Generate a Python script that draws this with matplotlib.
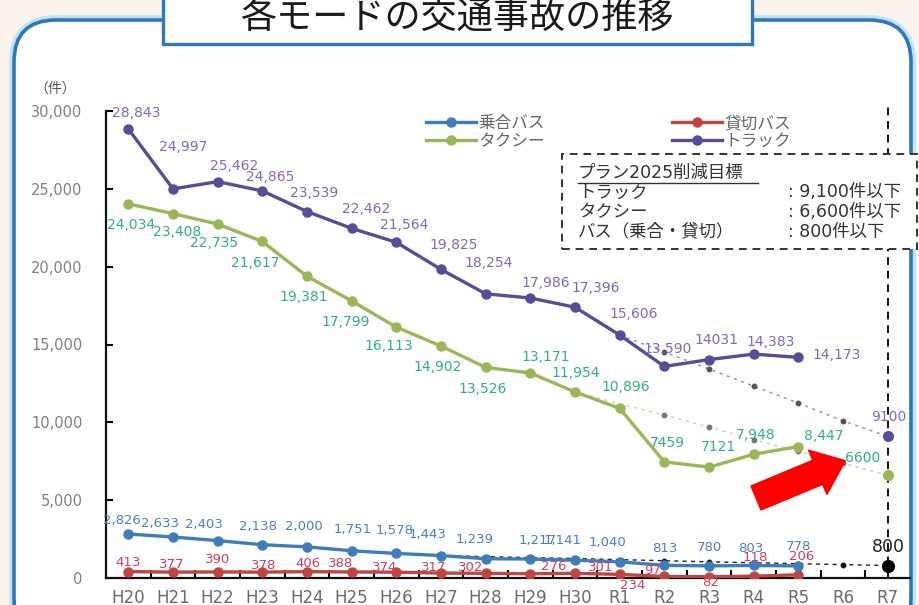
import matplotlib
matplotlib.use("Agg")
import matplotlib.pyplot as plt
from matplotlib.patches import FancyBboxPatch, Rectangle, FancyArrow
from matplotlib.lines import Line2D
from matplotlib.transforms import IdentityTransform

plt.rcParams['font.family'] = ['Noto Sans CJK JP', 'DejaVu Sans']

# ---------------- data ----------------
years = ["H20", "H21", "H22", "H23", "H24", "H25", "H26", "H27", "H28", "H29", "H30",
         "R1", "R2", "R3", "R4", "R5", "R6", "R7"]
actual_years = years[:16]

truck = [28843, 24997, 25462, 24865, 23539, 22462, 21564, 19825, 18254, 17986, 17396,
         15606, 13590, 14031, 14383, 14173]
truck_text = ["28,843", "24,997", "25,462", "24,865", "23,539", "22,462", "21,564", "19,825",
              "18,254", "17,986", "17,396", "15,606", "13,590", "14031", "14,383", "14,173"]
taxi = [24034, 23408, 22735, 21617, 19381, 17799, 16113, 14902, 13526, 13171, 11954,
        10896, 7459, 7121, 7948, 8447]
taxi_text = ["24,034", "23,408", "22,735", "21,617", "19,381", "17,799", "16,113", "14,902",
             "13,526", "13,171", "11,954", "10,896", "7459", "7121", "7,948", "8,447"]
bus_shared = [2826, 2633, 2403, 2138, 2000, 1751, 1578, 1443, 1239, 1217, 1141, 1040,
              813, 780, 803, 778]
bus_shared_text = ["2,826", "2,633", "2,403", "2,138", "2,000", "1,751", "1,578", "1,443",
                   "1,239", "1,217", "1,141", "1,040", "813", "780", "803", "778"]
bus_charter = [413, 377, 390, 378, 406, 388, 374, 317, 302, 276, 301, 234, 97, 82, 118, 206]

# plan (target) lines
truck_plan_years = ["R1", "R2", "R3", "R4", "R5", "R6", "R7"]
truck_plan = [15606, 14520, 13430, 12330, 11240, 10090, 9100]
taxi_plan_years = ["H30", "R1", "R2", "R3", "R4", "R5", "R6", "R7"]
taxi_plan = [11954, 11190, 10470, 9700, 8890, 8130, 7370, 6600]
bus_plan_years = ["H27", "H28", "H29", "H30", "R1", "R2", "R3", "R4", "R5", "R6", "R7"]
bus_plan = [1443, 1370, 1310, 1250, 1180, 1110, 1040, 980, 920, 860, 800]
plan_dot_years = ["R2", "R3", "R4", "R5", "R6"]
target_year = "R7"
truck_target, taxi_target, bus_target = 9100, 6600, 800

title = "各モードの交通事故の推移"
legend_names = ["乗合バス", "タクシー", "貸切バス", "トラック"]
box_title = "プラン2025削減目標"
box_rows = [("トラック", ": 9,100件以下"), ("タクシー", ": 6,600件以下"),
            ("バス（乗合・貸切）", ": 800件以下")]

# ---------------- label offsets (pixels) ----------------
truck_off = [(8, 16), (10, 42), (16, 16), (8, 14), (7, 19), (14, 19), (8, 17), (13, 24),
             (3, 31), (15, 15), (21, 19), (14, 21), (3, 17), (7, 20), (17, 12), (38, 2)]
taxi_off = [(3, -21), (4, -18), (-4, -19), (-7, -22), (-3, -21), (-6, -21), (-8, -19),
            (-3, -21), (-3, -22), (15, 16), (1, 19), (6, 21), (3, 19), (9, 20), (2, 19), (25, 11)]
bus_off = [(-6, 14), (-13, 14), (-14, 16), (-4, 18), (-3, 20), (1, 21), (-2, 23), (-14, 21),
           (-11, 19), (7, 19), (-12, 20), (-12, 19), (0, 17), (0, 18), (-3, 17), (0, 19)]
charter_off = [(0, 9), (-1, 8), (0, 12), (1, 7), (1, 8), (-11, 8), (-12, 5), (-7, 6),
               (-15, 6), (23, 7), (26, 6), (13, -11), (-12, 6), (2, -6), (2, 19), (3, 18)]

W, H = 919, 605
fig = plt.figure(figsize=(W / 100, H / 100), dpi=100)
fig.patch.set_facecolor('#fbf4ec')

def px(x, y):
    return x, H - y

# frame
frame_glow = FancyBboxPatch(px(14, 640), 897, 620, boxstyle="round,pad=0,rounding_size=42",
                            transform=IdentityTransform(), facecolor='white',
                            edgecolor='#bfe3f7', linewidth=7, zorder=-3)
fig.add_artist(frame_glow)
frame = FancyBboxPatch(px(14, 640), 897, 620, boxstyle="round,pad=0,rounding_size=42",
                       transform=IdentityTransform(), facecolor='white',
                       edgecolor='#2f78b8', linewidth=2.6, zorder=-2)
fig.add_artist(frame)

# title box
tb = Rectangle(px(163, 44), 589, 60, transform=IdentityTransform(), facecolor='white',
               edgecolor='#2f78b8', linewidth=2.4, zorder=5)
fig.add_artist(tb)
fig.text(458 / W, 1 - 18 / H, title, ha='center', va='center', fontsize=26,
         color='#1a1a1a', zorder=6)

ax = fig.add_axes([106 / W, 1 - 578 / H, (910 - 106) / W, (578 - 111) / H])
ax.set_zorder(1)
ax.set_facecolor('none')
ax.set_xlim(-0.5, 17.5)
ax.set_ylim(0, 30000)
for s in ['top', 'right']:
    ax.spines[s].set_visible(False)
for s in ['left', 'bottom']:
    ax.spines[s].set_linewidth(1.6)
    ax.spines[s].set_color('#111')

xi = {y: i for i, y in enumerate(years)}
xa = [xi[y] for y in actual_years]

c_truck, c_truck_t = '#5a4b98', '#8466b8'
c_taxi, c_taxi_t = '#9ab758', '#2fb084'
c_bus, c_bus_t = '#3f7cbc', '#4c7fc0'
c_ch, c_ch_t = '#c0443f', '#d63a5a'

# plan lines
ax.plot([xi[y] for y in truck_plan_years], truck_plan, linestyle=(0, (2, 3)),
        color='#a890a8', lw=1.1, zorder=2)
ax.plot([xi[y] for y in taxi_plan_years], taxi_plan, linestyle=(0, (2, 3)),
        color='#d8cfa8', lw=1.1, zorder=2)
ax.plot([xi[y] for y in bus_plan_years], bus_plan, linestyle=(0, (3, 3)),
        color='#222', lw=1.0, zorder=2)
for yrs, vals, col in [(truck_plan_years, truck_plan, '#555'),
                       (taxi_plan_years, taxi_plan, '#777'),
                       (bus_plan_years, bus_plan, '#111')]:
    pts = [(xi[y], v) for y, v in zip(yrs, vals) if y in plan_dot_years]
    ax.plot([p[0] for p in pts], [p[1] for p in pts], 'o', ms=3.2, color=col, zorder=3)

# main series
l_ch, = ax.plot(xa, bus_charter, '-o', color=c_ch, lw=2.4, ms=6.5, zorder=4)
l_bus, = ax.plot(xa, bus_shared, '-o', color=c_bus, lw=2.4, ms=6.5, zorder=4)
l_taxi, = ax.plot(xa, taxi, '-o', color=c_taxi, lw=2.4, ms=6.5, zorder=4)
l_truck, = ax.plot(xa, truck, '-o', color=c_truck, lw=2.4, ms=6.5, zorder=4)

# targets at R7
ax.plot([xi[target_year]], [truck_target], 'o', color=c_truck, ms=7, zorder=5)
ax.plot([xi[target_year]], [taxi_target], 'o', color=c_taxi, ms=7, zorder=5)
ax.plot([xi[target_year]], [bus_target], 'o', color='#000', ms=8.5, zorder=5)

# vertical dashed line at R7
ax.plot([xi[target_year]] * 2, [0, 30500], linestyle=(0, (4, 3)), color='#111', lw=1.4,
        zorder=1.5, clip_on=False)

# labels
numfont = dict(family='DejaVu Sans')
for i, (v, t) in enumerate(zip(truck, truck_text)):
    ax.annotate(t, (xa[i], v), xytext=truck_off[i], textcoords='offset pixels',
                ha='center', va='center', fontsize=10, color=c_truck_t, zorder=6, **numfont)
for i, (v, t) in enumerate(zip(taxi, taxi_text)):
    ax.annotate(t, (xa[i], v), xytext=taxi_off[i], textcoords='offset pixels',
                ha='center', va='center', fontsize=10, color=c_taxi_t, zorder=6, **numfont)
for i, (v, t) in enumerate(zip(bus_shared, bus_shared_text)):
    ax.annotate(t, (xa[i], v), xytext=bus_off[i], textcoords='offset pixels',
                ha='center', va='center', fontsize=9.5, color=c_bus_t, zorder=6, **numfont)
for i, v in enumerate(bus_charter):
    ax.annotate(f"{v:,}", (xa[i], v), xytext=charter_off[i], textcoords='offset pixels',
                ha='center', va='center', fontsize=9.5, color=c_ch_t, zorder=6, **numfont)
ax.annotate(f"{truck_target}", (xi[target_year], truck_target), xytext=(1, 19),
            textcoords='offset pixels', ha='center', va='center', fontsize=10,
            color=c_truck_t, zorder=6, **numfont)
ax.annotate(f"{taxi_target}", (xi[target_year], taxi_target), xytext=(-25, 17),
            textcoords='offset pixels', ha='center', va='center', fontsize=10,
            color=c_taxi_t, zorder=6, **numfont)
ax.annotate(f"{bus_target}", (xi[target_year], bus_target), xytext=(1, 19),
            textcoords='offset pixels', ha='center', va='center', fontsize=12.5,
            color='#222', zorder=6, **numfont)

# ticks
ax.set_yticks(range(0, 30001, 5000))
ax.set_yticklabels([f"{v:,}" for v in range(0, 30001, 5000)], fontsize=10.5,
                   color='#808080', family='DejaVu Sans')
ax.tick_params(axis='y', direction='in', length=5, width=1.5, pad=17)
ax.set_xticks(range(len(years)))
ax.set_xticklabels(years, fontsize=12, color='#6a6a6a', family='DejaVu Sans')
ax.set_xticks([i + 0.5 for i in range(len(years) - 1)], minor=True)
ax.tick_params(axis='x', which='major', length=0, pad=8)
ax.tick_params(axis='x', which='minor', direction='in', length=6, width=1.5)

fig.text(55 / W, 1 - 89 / H, "（件）", ha='center', va='center', fontsize=10, color='#555')

# legend
leg = ax.legend([l_bus, l_taxi, l_ch, l_truck], legend_names, ncol=2, frameon=False,
                loc='upper left', bbox_to_anchor=(426, H - 115),
                bbox_transform=IdentityTransform(), borderpad=0, borderaxespad=0,
                handlelength=3.0, handletextpad=0.15, columnspacing=7.6,
                labelspacing=0.05, fontsize=12)
for t in leg.get_texts():
    t.set_color('#666')

# target box
box = Rectangle(px(562, 249), 355, 95, transform=IdentityTransform(), facecolor='white',
                edgecolor='#333', linewidth=1.4, linestyle=(0, (4, 3)), zorder=7)
fig.add_artist(box)
boxfont = ['DejaVu Sans', 'Noto Sans CJK JP']
fig.text(578 / W, 1 - 173 / H, box_title, ha='left', va='center', fontsize=12.5,
         color='#333', zorder=8, family=boxfont)
fig.add_artist(Line2D([578 / W, 758 / W], [1 - 183 / H, 1 - 183 / H], color='#333',
                      lw=1.0, zorder=8))
for k, (a, b) in enumerate(box_rows):
    yy = 1 - (192.5 + 19.5 * k) / H
    fig.text(578 / W, yy, a, ha='left', va='center', fontsize=12.5, color='#333', zorder=8)
    fig.text(788 / W, yy, b, ha='left', va='center', fontsize=12.5, color='#333', zorder=8,
             family=boxfont)

# red arrow
arr = FancyArrow(756, H - 498, 89 - 30 * 0.91, 38 - 30 * 0.41, width=26, head_width=48,
                 head_length=30, length_includes_head=False, transform=IdentityTransform(),
                 color='#ff0000', zorder=9)
fig.add_artist(arr)

fig.savefig("out.png", dpi=100, facecolor=fig.get_facecolor())
